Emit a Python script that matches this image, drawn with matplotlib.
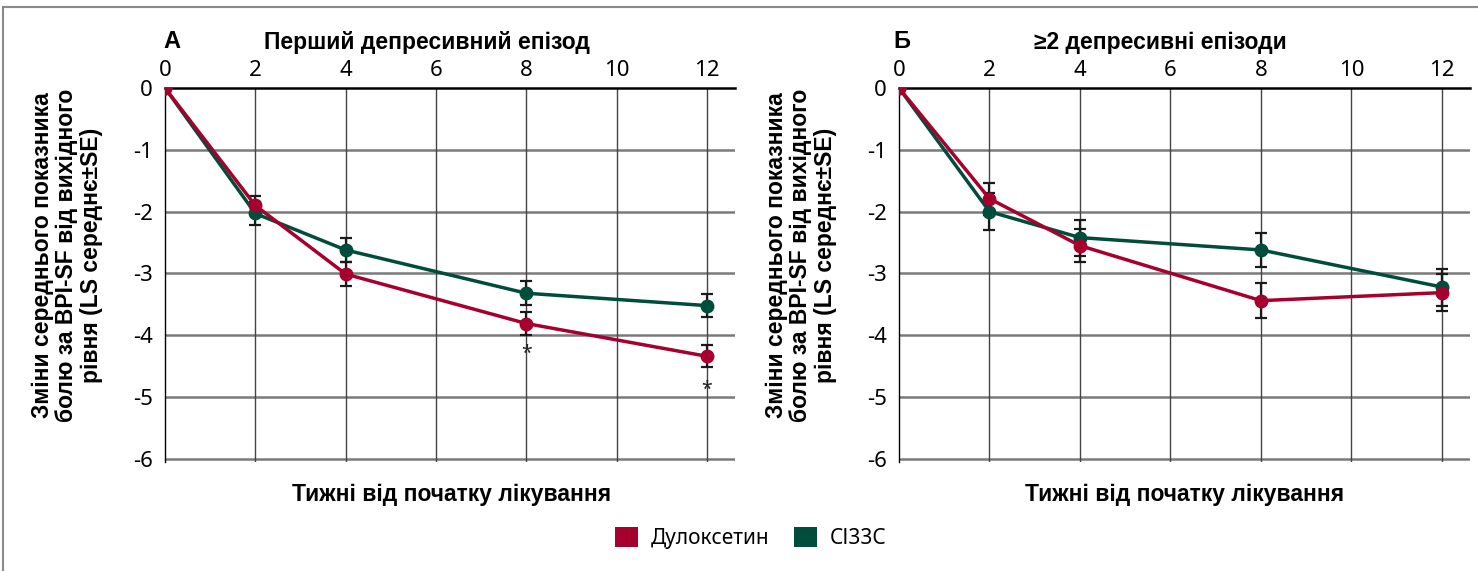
import numpy as np
import matplotlib
matplotlib.use('Agg')
import matplotlib.pyplot as plt
from matplotlib.patches import Patch
from matplotlib.lines import Line2D

plt.rcParams['font.family'] = ['Noto Sans', 'DejaVu Sans']
plt.rcParams['axes.unicode_minus'] = False
BOLD = ['Liberation Sans', 'DejaVu Sans']

# ========================
# data
# ========================
weeks = [0, 2, 4, 8, 12]

# A: first depressive episode
dulox_a = [0, -1.90, -3.01, -3.81, -4.34]
dulox_a_se = [0, 0.15, 0.20, 0.18, 0.18]
ci33c_a = [0, -2.03, -2.62, -3.32, -3.52]
ci33c_a_se = [0, 0.19, 0.19, 0.19, 0.18]
stars_a_x = [8, 12]
stars_a_y = [-4.31, -4.88]

# B: >=2 depressive episodes
dulox_b = [0, -1.79, -2.55, -3.44, -3.31]
dulox_b_se = [0, 0.26, 0.27, 0.28, 0.30]
ci33c_b = [0, -2.00, -2.42, -2.62, -3.22]
ci33c_b_se = [0, 0.30, 0.29, 0.28, 0.30]

xticks = [0, 2, 4, 6, 8, 10, 12]
yticks = [0, -1, -2, -3, -4, -5, -6]

titles = ['Перший депресивний епізод', '≥2 депресивні епізоди']
letters = ['А', 'Б']
ylabel = 'Зміни середнього показника\nболю за BPI-SF від вихідного\nрівня (LS середнє±SE)'
xlabel = 'Тижні від початку лікування'
names = ['Дулоксетин', 'СІ33С']

RED = '#A6002E'
GREEN = '#004D3B'

fig = plt.figure(figsize=(14.78, 5.71), dpi=100)
ax_a = fig.add_axes([165 / 1478, 109 / 571, 570 / 1478, 374 / 571])
ax_b = fig.add_axes([899 / 1478, 109 / 571, 571 / 1478, 374 / 571])


def draw_panel(ax, d, d_se, c, c_se):
    ax.set_xlim(0, 12.62)
    ax.set_ylim(-6.05, 0)
    ax.set_xticks(xticks)
    ax.set_yticks(yticks)
    ax.xaxis.tick_top()
    ax.tick_params(length=0, labelsize=16, pad=5)
    ax.tick_params(axis='y', pad=9)
    for s in ['right', 'bottom']:
        ax.spines[s].set_visible(False)
    ax.spines['top'].set_linewidth(1.8)
    ax.spines['left'].set_linewidth(1.0)
    for y in yticks[1:]:
        ax.axhline(y, color='#7a7a7a', lw=1.8, zorder=1)
    for x in xticks[1:]:
        ax.axvline(x, color='#444444', lw=1.0, zorder=1)
    ax.errorbar(weeks, c, yerr=c_se, color=GREEN, lw=2.5, marker='o', ms=9,
                ecolor='#1a1a1a', elinewidth=1.6, capsize=4, capthick=1.6, zorder=3)
    ax.errorbar(weeks, d, yerr=d_se, color=RED, lw=2.5, marker='o', ms=9,
                ecolor='#1a1a1a', elinewidth=1.6, capsize=4, capthick=1.6, zorder=3)


draw_panel(ax_a, dulox_a, dulox_a_se, ci33c_a, ci33c_a_se)
draw_panel(ax_b, dulox_b, dulox_b_se, ci33c_b, ci33c_b_se)

for x, y in zip(stars_a_x, stars_a_y):
    ax_a.text(x, y, '*', ha='center', va='center', fontsize=14, color='#222222', zorder=4)

# titles and labels
for lx, tx, let, t in [(172, 427, letters[0], titles[0]), (902, 1160, letters[1], titles[1])]:
    fig.text(lx / 1478, 1 - 42 / 571, let, ha='center', va='center',
             fontsize=17, fontweight='bold', family=BOLD)
    fig.text(tx / 1478, 1 - 42 / 571, t, ha='center', va='center',
             fontsize=16.5, fontweight='bold', family=BOLD)

for yx, xx in [(67, 452), (801, 1185)]:
    fig.text(yx / 1478, 1 - 255 / 571, ylabel, rotation=90, ha='center', va='center',
             multialignment='center', fontsize=16.5, fontweight='bold', linespacing=1.1,
             family=BOLD)
    fig.text(xx / 1478, 1 - 495 / 571, xlabel, ha='center', va='center',
             fontsize=16.5, fontweight='bold', family=BOLD)

handles = [Patch(facecolor=RED), Patch(facecolor=GREEN)]
fig.legend(handles, names, loc='center', bbox_to_anchor=(751 / 1478, 1 - 538 / 571),
           ncol=2, frameon=False, fontsize=15, handlelength=1.1, handleheight=1.1,
           handletextpad=0.6, columnspacing=1.2)

# thin frame at top and left
fig.add_artist(Line2D([3 / 1478, 1], [1 - 7 / 571, 1 - 7 / 571], color='#8a8a8a', lw=1.5))
fig.add_artist(Line2D([3 / 1478, 3 / 1478], [0, 1 - 7 / 571], color='#8a8a8a', lw=1.5))

fig.savefig('out.png', dpi=100)
